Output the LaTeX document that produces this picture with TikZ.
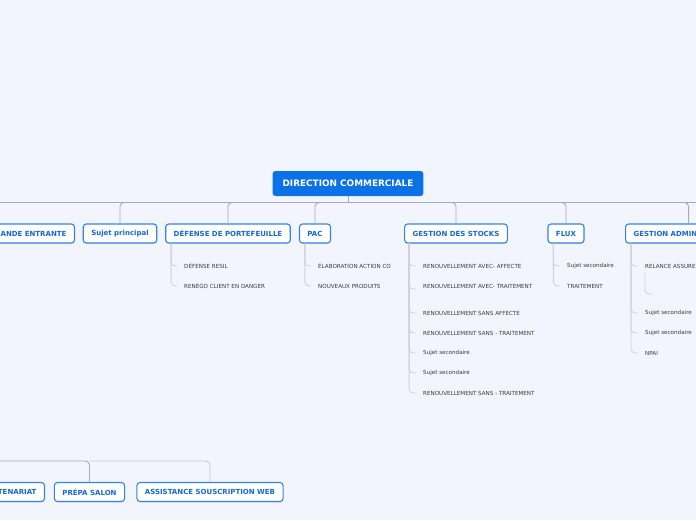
\documentclass[tikz,border=0pt]{standalone}
\usepackage{fontspec}
\setmainfont{DejaVu Sans}
\usepackage{xcolor}
\usetikzlibrary{calc, shadows}

\definecolor{bgcol}{RGB}{242,245,254}
\definecolor{spinecol}{RGB}{170,171,178}
\definecolor{twigcol}{RGB}{206,209,218}
\definecolor{boxblue}{RGB}{52,132,230}
\definecolor{txtblue}{RGB}{20,104,216}
\definecolor{rootblue}{RGB}{10,114,230}
\definecolor{leafcol}{RGB}{58,58,58}

\begin{document}
\begin{tikzpicture}[
    x=1pt, y=-1pt,
    root/.style={rectangle, rounded corners=3pt, fill=rootblue, text=white, minimum height=25pt, inner xsep=10pt, font=\fontsize{8.9}{10}\selectfont\bfseries},
    topic/.style={rectangle, rounded corners=3pt, draw=boxblue, line width=1.1pt, fill=white, text=txtblue, minimum height=19pt, inner xsep=8pt, font=\fontsize{7.0}{8}\selectfont\bfseries, drop shadow={opacity=0.15, shadow xshift=0pt, shadow yshift=-1pt}},
    leaf/.style={anchor=west, inner xsep=3pt, inner ysep=2pt, text=leafcol, font=\fontsize{5.6}{6.5}\selectfont},
    spine/.style={draw=spinecol, line width=0.9pt, rounded corners=4pt},
    twig/.style={draw=twigcol, line width=0.9pt, rounded corners=4pt, shorten >=4pt}
]
\fill[bgcol] (0,0) rectangle (696,520);
\useasboundingbox (0,0) rectangle (696,520);
\clip (0,0) rectangle (696,520);

% Nodes
\node[root] (dir) at (348,183.5) {DIRECTION COMMERCIALE};
\node[topic, anchor=east, text width=170pt, align=right] (entr) at (75,233.5) {ANDE ENTRANTE};
\node[topic] (sujet) at (120,233.5) {Sujet principal};
\node[topic] (defense) at (228,233.5) {DÉFENSE DE PORTEFEUILLE};
\node[topic] (pac) at (315,233.5) {PAC};
\node[topic] (stocks) at (456,233.5) {GESTION DES STOCKS};
\node[topic] (flux) at (566,233.5) {FLUX};
\node[topic, anchor=west, text width=110pt, align=left] (admin) at (625,233.5) {GESTION ADMIN};

\node[topic, anchor=east, text width=100pt, align=right] (parten) at (45,492) {TENARIAT};
\node[topic] (salon) at (89.5,492) {PRÉPA SALON};
\node[topic] (assist) at (210,492) {ASSISTANCE SOUSCRIPTION WEB};

% Leaves
\node[leaf] (def1) at (181,266) {DÉFENSE RESIL};
\node[leaf] (def2) at (181,286) {RENÉGO CLIENT EN DANGER};

\node[leaf] (pac1) at (315,266) {ÉLABORATION ACTION CO};
\node[leaf] (pac2) at (315,286) {NOUVEAUX PRODUITS};

\node[leaf] (st1) at (420,266) {RENOUVELLEMENT AVEC- AFFECTE};
\node[leaf] (st2) at (420,286) {RENOUVELLEMENT AVEC- TRAITEMENT};
\node[leaf] (st3) at (420,313) {RENOUVELLEMENT SANS AFFECTE};
\node[leaf] (st4) at (420,333) {RENOUVELLEMENT SANS - TRAITEMENT};
\node[leaf] (st5) at (420,353) {Sujet secondaire};
\node[leaf] (st6) at (420,373) {Sujet secondaire};
\node[leaf] (st7) at (420,393) {RENOUVELLEMENT SANS - TRAITEMENT};

\node[leaf] (fx1) at (564,266) {Sujet secondaire};
\node[leaf] (fx2) at (564,286) {TRAITEMENT};

\node[leaf] (ad1) at (642,266) {RELANCE ASSURE};
\node[leaf, minimum width=6pt] (ad1a) at (653,294) {};
\node[leaf] (ad2) at (642,313) {Sujet secondaire};
\node[leaf] (ad3) at (642,333) {Sujet secondaire};
\node[leaf] (ad4) at (642,353) {NPAI};

% Main branches
\coordinate (hub) at (348,202.5);
\coordinate (rend) at (710,202.5);
\draw[spine] (dir.south) -- (hub);
\draw[spine] (hub) -| (entr.north);
\draw[spine] (hub) -| (sujet.north);
\draw[spine] (hub) -| (defense.north);
\draw[spine] (hub) -| (pac.north);
\draw[spine] (hub) -| (stocks.north);
\draw[spine] (hub) -| (flux.north);
\draw[spine] (hub) -| (admin.north);
\draw[spine] (hub) -- (rend);

\coordinate (bend) at (-20,461);
\draw[spine] (bend) -| (parten.north);
\draw[spine] (bend) -| (salon.north);
\draw[spine, draw=twigcol!80!spinecol] (salon.north |- bend) -| (assist.north);

% Sub branches
\draw[twig] ($(defense.south west)+(6,0)$) |- (def1.west);
\draw[twig] ($(defense.south west)+(6,0)$) |- (def2.west);
\draw[twig] ($(pac.south west)+(6,0)$) |- (pac1.west);
\draw[twig] ($(pac.south west)+(6,0)$) |- (pac2.west);
\draw[twig] ($(stocks.south west)+(5,0)$) |- (st1.west);
\draw[twig] ($(stocks.south west)+(5,0)$) |- ($(st2.west)+(0,3)$);
\draw[twig] ($(stocks.south west)+(5,0)$) |- (st3.west);
\draw[twig] ($(stocks.south west)+(5,0)$) |- (st4.west);
\draw[twig] ($(stocks.south west)+(5,0)$) |- (st5.west);
\draw[twig] ($(stocks.south west)+(5,0)$) |- (st6.west);
\draw[twig] ($(stocks.south west)+(5,0)$) |- (st7.west);
\draw[twig] ($(flux.south west)+(6,0)$) |- (fx1.west);
\draw[twig] ($(flux.south west)+(6,0)$) |- (fx2.west);
\draw[twig] ($(admin.south west)+(6,0)$) |- (ad1.west);
\draw[twig] ($(admin.south west)+(6,0)$) |- (ad2.west);
\draw[twig] ($(admin.south west)+(6,0)$) |- (ad3.west);
\draw[twig] ($(admin.south west)+(6,0)$) |- (ad4.west);
\draw[twig, shorten >=0pt] ($(ad1.south west)+(3,2)$) |- (ad1a.west);

\end{tikzpicture}
\end{document}
